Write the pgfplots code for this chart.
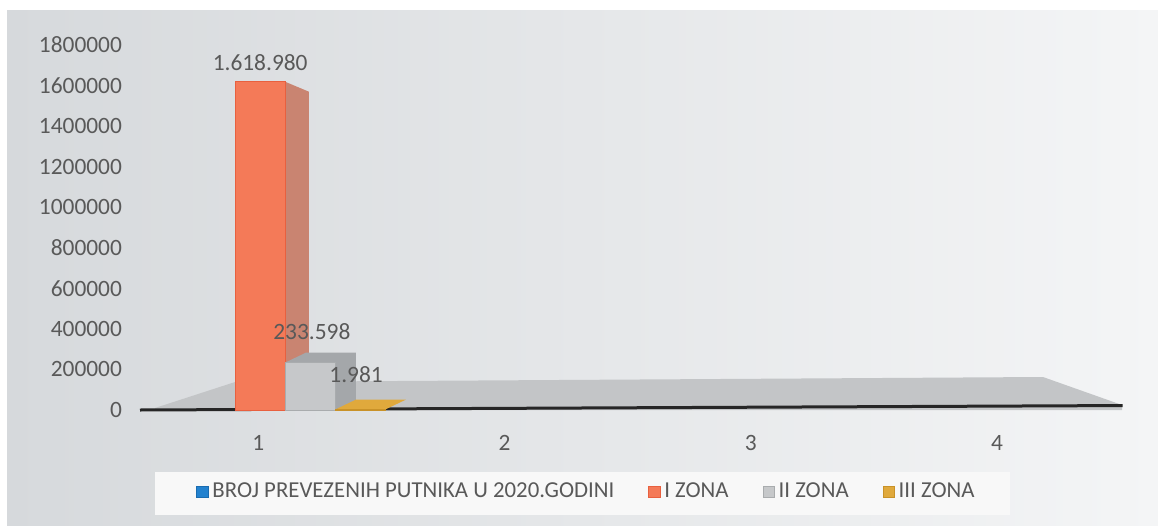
\documentclass[border=0pt]{standalone}
\usepackage{pgfplots}
\pgfplotsset{compat=1.18}
\usepackage{fontspec}
\setmainfont{Carlito}
\definecolor{txt}{HTML}{595959}
\definecolor{bluec}{HTML}{2382CF}
\definecolor{bluedraw}{HTML}{1A6CB0}
\definecolor{orangec}{HTML}{F47A58}
\definecolor{orangedraw}{HTML}{E8603F}
\definecolor{orangeside}{HTML}{C98471}
\definecolor{greyc}{HTML}{C6C8CA}
\definecolor{greydraw}{HTML}{A9ACAE}
\definecolor{greydark}{HTML}{A4A7AA}
\definecolor{yellowc}{HTML}{E0A93C}
\definecolor{yellowdraw}{HTML}{C99228}
\definecolor{floorc}{HTML}{C3C5C7}
\definecolor{bgl}{HTML}{D6D9DC}
\definecolor{bgr}{HTML}{F4F5F6}
\definecolor{legbg}{HTML}{F8F8F8}
\begin{document}
\begin{tikzpicture}
\fill[white] (0,0) rectangle (579pt,263.5pt);
\shade[left color=bgl,right color=bgr] (3.5pt,1pt) rectangle (579pt,258.5pt);
\fill[legbg] (77.5pt,6pt) rectangle (505pt,27.5pt);
\begin{axis}[
  at={(70pt,58.5pt)}, anchor=south west,
  scale only axis, width=492.5pt, height=182.5pt,
  xmin=0.52, xmax=4.52, ymin=0, ymax=1800000,
  clip=false,
  axis line style={draw=none},
  major tick length=0pt,
  xtick={1,2,3,4},
  ytick={0,200000,400000,600000,800000,1000000,1200000,1400000,1600000,1800000},
  scaled y ticks=false,
  /pgf/number format/assume math mode=true,
  yticklabel style={/pgf/number format/fixed,/pgf/number format/1000 sep={},xshift=-5.5pt},
  xticklabel style={yshift=-9pt},
  tick label style={font=\fontsize{11.7}{14}\selectfont, text=txt},
  legend image code/.code={\draw[#1] (0pt,-2.8pt) rectangle (5.6pt,2.8pt);},
  legend style={at={(0.4543,-0.2247)}, anchor=center, draw=none, fill=none,
    legend columns=-1, font=\fontsize{11.4}{14}\selectfont, text=txt,
    /tikz/every even column/.append style={column sep=15pt}},
  legend cell align=left,
]
% floor
\addplot[fill=floorc, draw=none, forget plot] coordinates {(0.581,9863) (0.906,138082) (4.187,162740) (4.508,24658)} \closedcycle;
\addplot[black!85, line width=1.5pt, forget plot] coordinates {(0.52,0) (4.51,22000)};
% I ZONA side face
\addplot[fill=orangeside, draw=none, forget plot] coordinates {(1.109,0) (1.109,1618980) (1.206,1569665) (1.206,0)} -- cycle;
% I ZONA
\addplot[ybar, bar width=0.203, bar shift=0pt, fill=orangec, draw=orangedraw, forget plot,
  nodes near coords={1.618.980},
  every node near coord/.append style={font=\fontsize{11.7}{14}\selectfont, text=txt, yshift=2pt}]
  coordinates {(1.008,1618980)};
% II ZONA back block
\addplot[fill=greydark, draw=none, forget plot] coordinates {(1.109,0) (1.109,233598) (1.194,282913) (1.397,282913) (1.397,49315) (1.312,0)} -- cycle;
% II ZONA
\addplot[ybar, bar width=0.203, bar shift=0pt, fill=greyc, draw=greydraw, forget plot,
  nodes near coords={233.598},
  every node near coord/.append style={font=\fontsize{11.7}{14}\selectfont, text=txt, yshift=8pt, xshift=1pt}]
  coordinates {(1.210,233598)};
% III ZONA top face
\addplot[fill=yellowc, draw=none, forget plot] coordinates {(1.312,1981) (1.397,51296) (1.600,51296) (1.515,1981)} -- cycle;
% III ZONA
\addplot[ybar, bar width=0.203, bar shift=0pt, fill=yellowc, draw=yellowdraw, forget plot,
  nodes near coords={1.981},
  every node near coord/.append style={font=\fontsize{11.7}{14}\selectfont, text=txt, yshift=10pt, xshift=-2pt}]
  coordinates {(1.414,1981)};
\addlegendimage{fill=bluec, draw=bluedraw}
\addlegendentry{BROJ PREVEZENIH PUTNIKA U 2020.GODINI}
\addlegendimage{fill=orangec, draw=orangedraw}
\addlegendentry{I ZONA}
\addlegendimage{fill=greyc, draw=greydraw}
\addlegendentry{II ZONA}
\addlegendimage{fill=yellowc, draw=yellowdraw}
\addlegendentry{III ZONA}
\end{axis}
\end{tikzpicture}
\end{document}
